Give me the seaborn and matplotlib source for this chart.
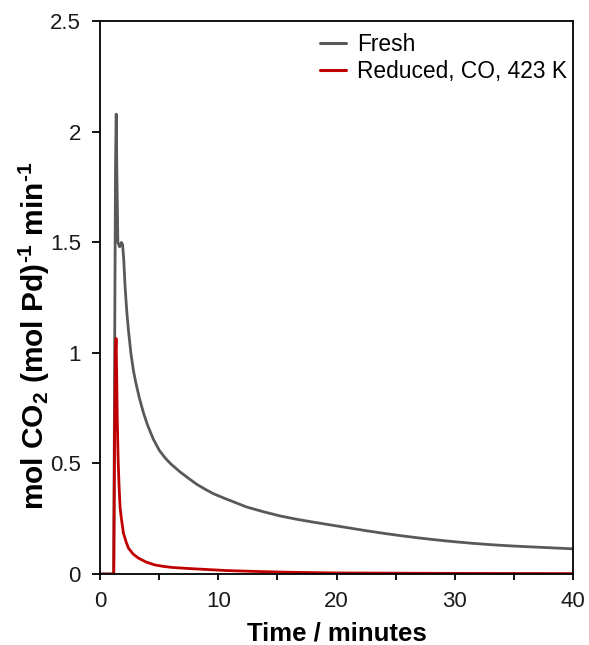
import matplotlib
matplotlib.use('Agg')
import matplotlib.pyplot as plt
from matplotlib.ticker import MultipleLocator
import pandas as pd
import seaborn as sns

sns.set_style('ticks')
plt.rcParams['font.family'] = ['Liberation Sans', 'DejaVu Sans']
plt.rcParams['mathtext.fontset'] = 'custom'
plt.rcParams['mathtext.bf'] = 'Liberation Sans:bold'
plt.rcParams['mathtext.rm'] = 'Liberation Sans'
plt.rcParams['text.color'] = 'black'
plt.rcParams['axes.labelcolor'] = 'black'
plt.rcParams['xtick.labelcolor'] = '#1a1a1a'
plt.rcParams['ytick.labelcolor'] = '#1a1a1a'

# values (time in minutes)
fresh_t = [0, 1.15, 1.22, 1.3, 1.36, 1.42, 1.5, 1.65, 1.8, 1.9, 2.0, 2.11, 2.25, 2.4,
           2.6, 2.8, 3.0, 3.3, 3.66, 4.0, 4.5, 5.0, 5.5, 6.0, 6.76, 7.5, 8.2, 9.0,
           9.6, 10.5, 11.5, 12.4, 13.8, 15.2, 16.6, 18.0, 19.5, 21.0, 22.5, 24.0,
           25.5, 27.0, 28.5, 30.0, 31.5, 33.0, 34.5, 36.0, 38.0, 40.0]
fresh_v = [0, 0, 0.9, 1.85, 2.08, 1.8, 1.5, 1.48, 1.50, 1.49, 1.42, 1.30, 1.19, 1.10,
           1.00, 0.925, 0.87, 0.80, 0.73, 0.675, 0.61, 0.56, 0.525, 0.497, 0.462, 0.432,
           0.405, 0.38, 0.363, 0.343, 0.322, 0.303, 0.282, 0.263, 0.248, 0.235, 0.222,
           0.209, 0.196, 0.184, 0.173, 0.163, 0.154, 0.146, 0.139, 0.133, 0.128, 0.124,
           0.119, 0.114]

red_t = [0, 1.15, 1.22, 1.3, 1.35, 1.4, 1.45, 1.52, 1.6, 1.69, 1.8, 1.97, 2.2, 2.4,
         2.8, 3.24, 3.9, 4.65, 5.3, 6.06, 7.5, 8.9, 10.6, 13, 16, 20, 25, 30, 35, 40]
red_v = [0, 0, 0.6, 1.0, 1.065, 0.9, 0.7, 0.52, 0.4, 0.3, 0.25, 0.185, 0.145, 0.117,
         0.09, 0.072, 0.054, 0.041, 0.035, 0.03, 0.025, 0.021, 0.016, 0.012, 0.008, 0.005,
         0.004, 0.003, 0.0025, 0.002]

series_names = ['Fresh', 'Reduced, CO, 423 K']
series_colors = ['#595959', '#c00000']

df = pd.concat([
    pd.DataFrame({'t': fresh_t, 'v': fresh_v, 'sample': series_names[0]}),
    pd.DataFrame({'t': red_t, 'v': red_v, 'sample': series_names[1]}),
])

fig = plt.figure(figsize=(5.89, 6.45), dpi=100)
ax = fig.add_axes([0.170, 0.110, 0.803, 0.857])

sns.lineplot(data=df, x='t', y='v', hue='sample', palette=series_colors,
             estimator=None, sort=False, linewidth=2.0, ax=ax)

ax.set_xlim(0, 40)
ax.set_ylim(0, 2.5)
ax.xaxis.set_major_locator(MultipleLocator(10))
ax.xaxis.set_minor_locator(MultipleLocator(5))
ax.set_yticks([0, 0.5, 1, 1.5, 2, 2.5])
ax.set_yticklabels(['0', '0.5', '1', '1.5', '2', '2.5'])
ax.tick_params(which='both', direction='out', width=1.3, labelsize=16, color='black')
ax.tick_params(axis='x', which='both', length=4.5, pad=7.5)
ax.tick_params(axis='y', length=5.8, pad=8)
for s in ax.spines.values():
    s.set_linewidth(1.3)
    s.set_color('black')

ax.set_xlabel('Time / minutes', fontsize=18.5, fontweight='bold', labelpad=7)
ax.set_ylabel('mol CO$\\mathbf{_2}$ (mol Pd)$\\mathbf{^{\u20101}}$ min$\\mathbf{^{\u20101}}$',
              fontsize=21.5, fontweight='bold')
ax.yaxis.set_label_coords(-0.102, 0.431)

leg = ax.legend(loc='upper right', bbox_to_anchor=(0.996, 0.987), frameon=False,
                fontsize=16.4, handlelength=1.18, handletextpad=0.45,
                borderaxespad=0.05, borderpad=0.15, labelspacing=0.17)
for line in leg.get_lines():
    line.set_linewidth(2.2)

fig.savefig('out.png', dpi=100)
